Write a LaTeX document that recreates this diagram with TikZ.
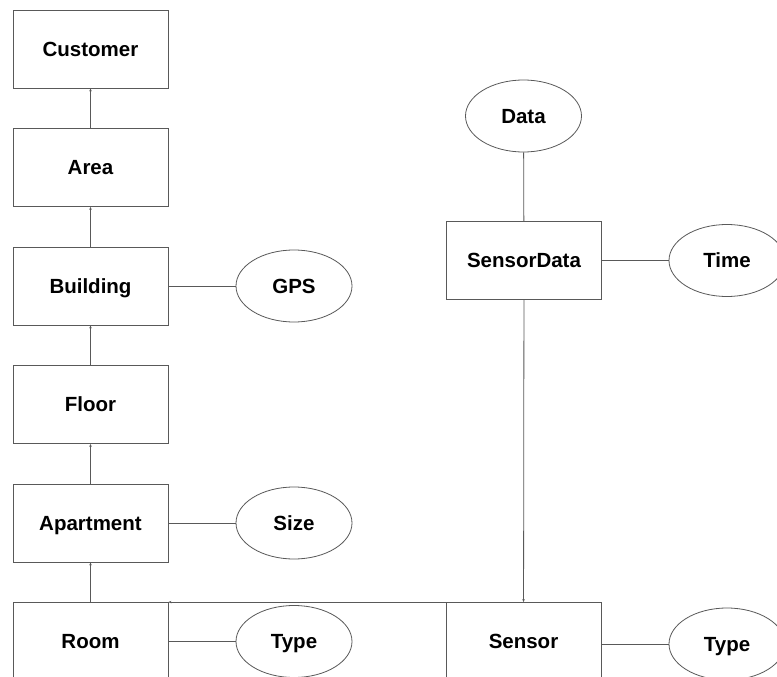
\documentclass[tikz,border=0pt]{standalone}
\usepackage{fontspec}
\setmainfont{Liberation Sans}
\usetikzlibrary{shapes.geometric,arrows.meta}
\begin{document}
\begin{tikzpicture}[x=1pt, y=-1pt,
  every node/.style={font=\fontsize{20.5}{24}\selectfont\bfseries, inner sep=0pt, text height=15pt, text depth=0.4pt},
  entity/.style={draw=black!65, line width=0.8pt, rectangle, minimum width=155pt, minimum height=78pt},
  attrib/.style={draw=black!65, line width=0.8pt, ellipse, minimum width=116pt, minimum height=72pt},
  link/.style={draw=black!65, line width=0.8pt},
  arr/.style={link, -{Stealth[length=3pt,width=2.5pt]}}]
  \clip (0,0) rectangle (777,677);
  \fill [white] (0,0) rectangle (777,677);
  \node [entity] (customer) at (90.5,49) {Customer};
  \node [entity] (area) at (90.5,167.5) {Area};
  \node [entity] (building) at (90.5,286) {Building};
  \node [entity] (floor) at (90.5,404.5) {Floor};
  \node [entity] (apartment) at (90.5,523) {Apartment};
  \node [entity] (room) at (90.5,641.5) {Room};
  \node [attrib] (gps) at (294,286) {GPS};
  \node [attrib] (size) at (294,523) {Size};
  \node [attrib] (roomtype) at (294,641.5) {Type};
  \node [attrib] (data) at (523.5,116) {Data};
  \node [entity] (sensordata) at (524,260.5) {SensorData};
  \node [attrib] (time) at (727,260.5) {Time};
  \node [entity] (sensor) at (523.5,641.5) {Sensor};
  \node [attrib] (sensortype) at (727,644) {Type};
  \draw [arr] (area) -- (customer);
  \draw [arr] (building) -- (area);
  \draw [arr] (floor) -- (building);
  \draw [arr] (apartment) -- (floor);
  \draw [arr] (room) -- (apartment);
  \draw [link] (building) -- (gps);
  \draw [link] (apartment) -- (size);
  \draw [link] (room) -- (roomtype);
  \draw [link] (data) -- (sensordata);
  \draw [link] (sensordata) -- (time);
  \draw [link] (sensor.east |- sensortype) -- (sensortype);
  \draw [arr] (sensordata) -- (sensor);
  \draw [arr] (sensor.north west) -- (room.north east);
\end{tikzpicture}
\end{document}
